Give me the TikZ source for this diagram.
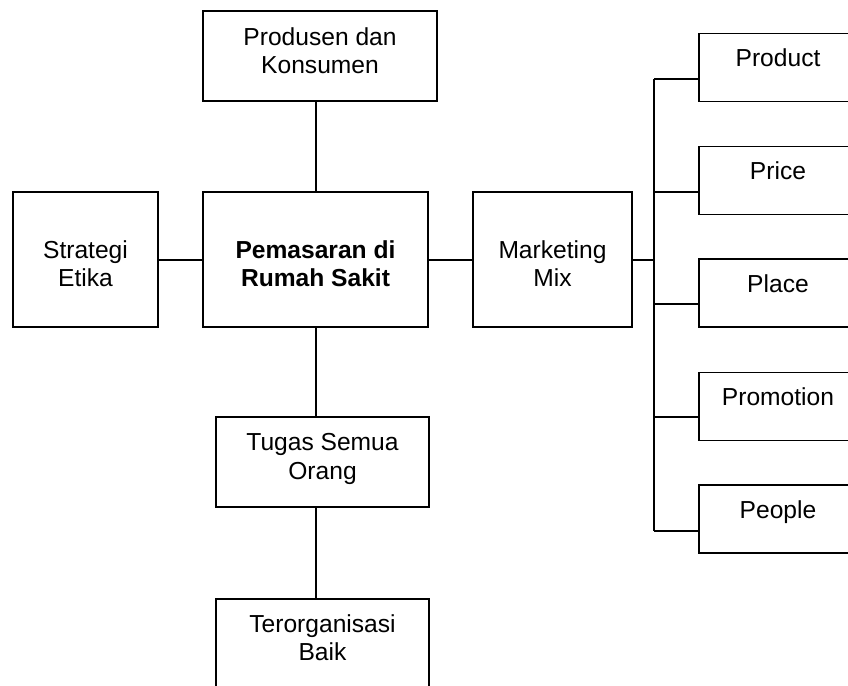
\documentclass[tikz,border=0pt]{standalone}
\usepackage{fontspec}
\setmainfont{Liberation Sans}
\begin{document}
\begin{tikzpicture}[x=1pt,y=-1pt,
  box/.style={draw, rectangle, line width=1.6pt, inner sep=0pt},
  txt/.style={font=\fontsize{24.6}{28.3}\selectfont, align=center, inner sep=0pt},
  rtxt/.style={txt, text height=0.72em, text depth=0pt, yshift=4.5pt},
  rbox/.style={box, minimum width=158pt, minimum height=68pt},
  conn/.style={draw, line width=2pt}]
\useasboundingbox (0,0) rectangle (848,685);
\clip (0,0) rectangle (848,685);
% main column
\node[box, minimum width=234pt, minimum height=90pt,
  label={[txt,yshift=5pt]center:{Produsen dan\\Konsumen}}] (prod) at (320,56) {};
\node[box, minimum width=145pt, minimum height=135pt,
  label={[txt,yshift=-4pt]center:{Strategi\\Etika}}] (strat) at (85.5,259.5) {};
\node[box, minimum width=225pt, minimum height=135pt,
  label={[txt,font=\fontsize{24.6}{28.3}\selectfont\bfseries,yshift=-4pt]center:{Pemasaran di\\Rumah Sakit}}] (pem) at (315.5,259.5) {};
\node[box, minimum width=159pt, minimum height=135pt,
  label={[txt,yshift=-4pt]center:{Marketing\\Mix}}] (mm) at (552.5,259.5) {};
\node[box, minimum width=213pt, minimum height=90pt,
  label={[txt,yshift=3pt]center:{Tugas Semua\\Orang}}] (tug) at (322.5,462) {};
\node[box, minimum width=213pt, minimum height=90pt,
  label={[txt,yshift=6.5pt]center:{Terorganisasi\\Baik}}] (ter) at (322.5,644) {};
% right column
\node[rbox, label={[rtxt]center:Product}] (product) at (778,67.5) {};
\node[rbox, label={[rtxt]center:Price}] (price) at (778,180.5) {};
\node[rbox, label={[rtxt]center:Place}] (place) at (778,293) {};
\node[rbox, label={[rtxt]center:Promotion}] (promo) at (778,406.5) {};
\node[rbox, label={[rtxt]center:People}] (people) at (778,519) {};
% bus coordinates
\coordinate (b1) at (654,79);
\coordinate (b2) at (654,192);
\coordinate (b3) at (654,304);
\coordinate (b4) at (654,417);
\coordinate (b5) at (654,531);
% connectors
\path[conn] (pem.north) -- (pem.north |- prod.south);
\path[conn] (strat.east) -- (pem.west);
\path[conn] (pem.east) -- (mm.west);
\path[conn] (pem.south) -- (pem.south |- tug.north);
\path[conn] (pem.south |- tug.south) -- (pem.south |- ter.north);
\path[conn] (mm.east) -- (mm.east -| b1);
\path[conn] (b1) -- (b5);
\path[conn] (b1) -- (b1 -| product.west);
\path[conn] (b2) -- (b2 -| price.west);
\path[conn] (b3) -- (b3 -| place.west);
\path[conn] (b4) -- (b4 -| promo.west);
\path[conn] (b5) -- (b5 -| people.west);
\end{tikzpicture}
\end{document}
